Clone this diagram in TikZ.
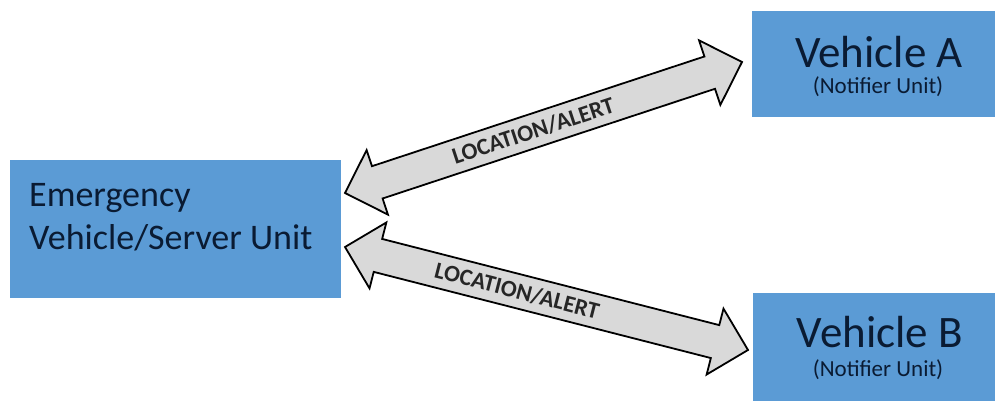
\documentclass[tikz,border=0pt]{standalone}
\usepackage{fontspec}
\setmainfont{Carlito}
\usetikzlibrary{calc}
\definecolor{boxblue}{HTML}{5B9BD5}
\definecolor{txtnavy}{HTML}{0A1B33}
\definecolor{arrgray}{HTML}{D9D9D9}
\def\bahl{34pt}% head length
\def\bahw{34pt}% head half width
\def\bsw{17pt}% shaft half width
\newcommand\blockarrow[2]{%
  \draw[blockarr] (#1)
    -- ($(#1)!\bahl!(#2)!\bahw!90:(#2)$)
    -- ($(#1)!\bahl!(#2)!\bsw!90:(#2)$)
    -- ($(#2)!\bahl!(#1)!\bsw!-90:(#1)$)
    -- ($(#2)!\bahl!(#1)!\bahw!-90:(#1)$)
    -- (#2)
    -- ($(#2)!\bahl!(#1)!\bahw!90:(#1)$)
    -- ($(#2)!\bahl!(#1)!\bsw!90:(#1)$)
    -- ($(#1)!\bahl!(#2)!\bsw!-90:(#2)$)
    -- ($(#1)!\bahl!(#2)!\bahw!-90:(#2)$)
    -- cycle;}
\tikzset{
  box/.style={fill=boxblue, draw=none, inner sep=0pt, anchor=south west},
  lbl/.style={text=txtnavy, inner sep=0pt},
  blockarr/.style={draw=black, fill=arrgray, line width=1.8pt, line join=miter},
  arrlbl/.style={text=black!85, inner sep=0pt, font=\bfseries\fontsize{23.5}{27}\selectfont}
}
\begin{document}
\begin{tikzpicture}[x=1pt,y=1pt]
\useasboundingbox (0,0) rectangle (995,401);
\fill[white] (0,0) rectangle (995,401);
% boxes
\node[box, minimum width=331pt, minimum height=138pt] (E) at (10,103) {};
\node[box, minimum width=243pt, minimum height=106pt] (A) at (752,284) {};
\node[box, minimum width=242pt, minimum height=108pt] (B) at (753,0) {};
% texts
\node[lbl, font=\fontsize{36}{42}\selectfont, anchor=base west] (E1) at (29,194) {Emergency};
\node[lbl, font=\fontsize{36}{42}\selectfont, anchor=base west] (E2) at (29,151) {Vehicle/Server Unit};
\node[lbl, font=\fontsize{45}{52}\selectfont, anchor=base] (A1) at (879,333) {Vehicle A};
\node[lbl, font=\fontsize{23}{27}\selectfont, anchor=base] (A2) at (878,307) {(Notifier Unit)};
\node[lbl, font=\fontsize{45}{52}\selectfont, anchor=base] (B1) at (880,53) {Vehicle B};
\node[lbl, font=\fontsize{23}{27}\selectfont, anchor=base] (B2) at (878,24) {(Notifier Unit)};
% arrow ends
\coordinate (u1) at (345,208);
\coordinate (u2) at (742,339);
\coordinate (l1) at (345,154);
\coordinate (l2) at (748,51);
\blockarrow{u1}{u2}
\blockarrow{l1}{l2}
\path (u1) -- (u2) node[pos=0.474, sloped, arrlbl] (t1) {LOCATION/ALERT};
\path (l1) -- (l2) node[pos=0.427, sloped, arrlbl] (t2) {LOCATION/ALERT};
\end{tikzpicture}
\end{document}
